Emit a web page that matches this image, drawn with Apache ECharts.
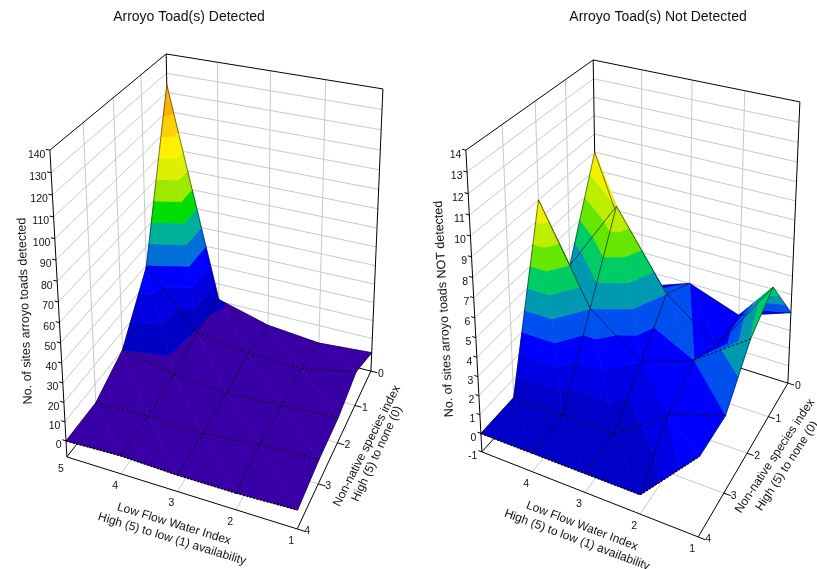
<!DOCTYPE html>
<html><head><meta charset="utf-8"><style>html,body{margin:0;padding:0;background:#fff}#chart{width:817px;height:569px}</style></head>
<body><div id="chart"></div>
<script src="https://cdn.jsdelivr.net/npm/echarts@6/dist/echarts.min.js"></script>
<script>
// ---- categories / ticks
const lowFlowIndex = [5, 4, 3, 2, 1];
const speciesIndex = [0, 1, 2, 3, 4];
const detectedZTicks = [0,10,20,30,40,50,60,70,80,90,100,110,120,130,140];
const notDetectedZTicks = [-1,0,1,2,3,4,5,6,7,8,9,10,11,12,13,14];
const detectedLowFlowLabels = [5,4,3,2,1];
const notDetectedLowFlowLabels = [4,3,2,1];

// ---- series values: one row per low-flow index, species index 0..4
const detectedLF5 = [124, 39, 10, 0, 0];
const detectedLF4 = [11, 9, 4, 1, 1];
const detectedLF3 = [3, 5, 2, 0, 0];
const detectedLF2 = [0, 4, 3, 3, 0];
const detectedLF1 = [2, 10, 5, 4, 1];

const notDetectedLF5 = [9, 4, 9, 0, 0];
const notDetectedLF4 = [2, 8, 4, 0, 0];
const notDetectedLF3 = [3, 4, 2, 0, 0];
const notDetectedLF2 = [2, 2, 3, 2, 0];
const notDetectedLF1 = [3, 6, 5, 3, 3];

// ---- colour bands
const detectedLevels = [0,10,20,30,40,50,60,70,80,90,100,110,1000];
const detectedColors = ['#3A00A8','#0000C4','#0000E0','#0000FF','#0070D8','#00B098','#00DD00','#9FE800','#DDF000','#FFF000','#FFD000','#FFB000'];
const notDetectedLevels = [-1,1,2,3,4,5,6,7,8,1000];
const notDetectedColors = ['#0000C8','#0000E4','#0000FF','#0050F0','#0099B0','#00CC66','#66E600','#BDEE00','#F0F000'];

// ---- layout
const FONT_TICK = '10.5px "Liberation Sans"';
const FONT_NAME = '12px "Liberation Sans"';
const FONT_ZNAME = '12.5px "Liberation Sans"';
const panels = [
  { rows:[detectedLF5,detectedLF4,detectedLF3,detectedLF2,detectedLF1], levels:detectedLevels, colors:detectedColors,
    zMin:-8.5, zMax:140, zTicks:detectedZTicks, lfLabels:detectedLowFlowLabels,
    anchors:[[5,4,-8.5,67,457],[1,4,-8.5,297,529],[1,0,-8.5,371,371],[5,4,140,50,150],[5,0,140,166,54],[1,0,140,383,89]],
    isDashed:function(lf,sp){ return sp===4 || sp===3 || sp===2 || (sp===1 && lf<5); },
    zTitle:{t:'No. of sites arroyo toads detected',x:25,y:311,r:92},
    lfTitles:[{t:'Low Flow Water Index',x:174,y:524,r:-17},{t:'High (5) to low (1) availability',x:172,y:539,r:-17}],
    spTitles:[{t:'Non-native species index',x:367,y:446,r:63},{t:'High (5) to none (0)',x:377,y:454,r:65}]
  },
  { rows:[notDetectedLF5,notDetectedLF4,notDetectedLF3,notDetectedLF2,notDetectedLF1], levels:notDetectedLevels, colors:notDetectedColors,
    zMin:-1, zMax:14, zTicks:notDetectedZTicks, lfLabels:notDetectedLowFlowLabels,
    anchors:[[5,4,-1,482,452],[1,4,-1,698,537],[1,0,-1,788,383],[5,4,14,466,150],[5,0,14,593,60],[1,0,14,800,102]],
    isDashed:function(lf,sp){ return sp===4 || sp===3 || (sp===2 && lf===2); },
    zTitle:{t:'No. of sites arroyo toads NOT detected',x:444,y:309,r:93},
    lfTitles:[{t:'Low Flow Water Index',x:582,y:526,r:-21},{t:'High (5) to low (1) availability',x:577,y:540,r:-20.5}],
    spTitles:[{t:'Non-native species index',x:775,y:456,r:56.5},{t:'High (5) to none (0)',x:787,y:466,r:57}]
  }
];

function solveCamera(pts){
  const A=[];
  pts.forEach(p=>{const [X,Y,Z,u,v]=p;
    A.push([X,Y,Z,1,0,0,0,0,-u*X,-u*Y,-u*Z,u]);
    A.push([0,0,0,0,X,Y,Z,1,-v*X,-v*Y,-v*Z,v]);});
  const n=11,N=[];
  for(let i=0;i<n;i++){N.push([]);for(let j=0;j<=n;j++){let s=0;A.forEach(r=>{s+=r[i]*r[j]});N[i].push(s);}}
  for(let i=0;i<n;i++){let m=i;for(let k=i;k<n;k++)if(Math.abs(N[k][i])>Math.abs(N[m][i]))m=k;
    const t=N[i];N[i]=N[m];N[m]=t;
    for(let k=0;k<n;k++)if(k!==i){const f=N[k][i]/N[i][i];for(let j=i;j<=n;j++)N[k][j]-=f*N[i][j];}}
  const x=[];for(let i=0;i<n;i++)x.push(N[i][n]/N[i][i]);x.push(1);return x;
}
panels.forEach(p=>{p.cam=solveCamera(p.anchors);});

function project(api,P,lf,sp,z){
  const w=P[8]*lf+P[9]*sp+P[10]*z+P[11];
  return api.coord([(P[0]*lf+P[1]*sp+P[2]*z+P[3])/w,(P[4]*lf+P[5]*sp+P[6]*z+P[7])/w]);
}
function clipZ(poly,limit,keepAbove){
  const out=[];
  for(let i=0;i<poly.length;i++){
    const a=poly[i],b=poly[(i+1)%poly.length];
    const ia=keepAbove?a[2]>=limit:a[2]<=limit, ib=keepAbove?b[2]>=limit:b[2]<=limit;
    if(ia)out.push(a);
    if(ia!==ib){const t=(limit-a[2])/(b[2]-a[2]);out.push([a[0]+t*(b[0]-a[0]),a[1]+t*(b[1]-a[1]),limit]);}
  }
  return out;
}
function lineEl(a,b,stroke,width,dash){
  return {type:'line',silent:true,shape:{x1:a[0],y1:a[1],x2:b[0],y2:b[1]},style:{stroke:stroke,lineWidth:width,lineDash:dash||null,fill:null}};
}
function textEl(t,x,y,font,align,rot){
  return {type:'text',silent:true,x:x,y:y,rotation:(rot||0)*Math.PI/180,
    style:{text:String(t),font:font,fill:'#111',textAlign:align||'center',textVerticalAlign:'middle'}};
}

function renderFrame(p){
  return function(params,api){
    const P=p.cam, c=[], zA=p.zMin, zB=p.zMax, pt=(l,s,z)=>project(api,P,l,s,z);
    const GRID='#C9C9C9';
    p.zTicks.forEach(z=>{
      if(z<=p.zMin||z>=p.zMax) return;
      c.push(lineEl(pt(5,4,z),pt(5,0,z),GRID,1));
      c.push(lineEl(pt(5,0,z),pt(1,0,z),GRID,1));
    });
    [4,3,2].forEach(l=>{
      c.push(lineEl(pt(l,0,zA),pt(l,0,zB),GRID,1));
      c.push(lineEl(pt(l,4,zA),pt(l,0,zA),GRID,1));
    });
    [3,2,1].forEach(s=>{
      c.push(lineEl(pt(5,s,zA),pt(5,s,zB),GRID,1));
      c.push(lineEl(pt(5,s,zA),pt(1,s,zA),GRID,1));
    });
    const K='#000';
    [[5,4,zB,5,0,zB],[5,0,zB,1,0,zB],[5,4,zA,5,4,zB],[5,0,zA,5,0,zB],[1,0,zA,1,0,zB],
     [5,4,zA,1,4,zA],[1,4,zA,1,0,zA],[5,4,zA,5,0,zA],[5,0,zA,1,0,zA]].forEach(e=>{
      c.push(lineEl(pt(e[0],e[1],e[2]),pt(e[3],e[4],e[5]),K,1));
    });
    return {type:'group',children:c};
  };
}
function renderAxes(p){
  return function(params,api){
    const P=p.cam, c=[], zA=p.zMin, pt=(l,s,z)=>project(api,P,l,s,z), K='#000';
    p.zTicks.forEach(z=>{
      const a=pt(5,4,z);
      c.push(lineEl(pt(5.07,4,z),a,K,1));
      c.push(textEl(z,a[0]-4.5,a[1]+4.5,FONT_TICK,'right'));
    });
    p.lfLabels.forEach(l=>{
      const a=pt(l,4,zA);
      c.push(textEl(l,a[0]-6,a[1]+12,FONT_TICK,'center'));
    });
    speciesIndex.forEach(s=>{
      const a=pt(1,s,zA);
      c.push(lineEl(pt(0.88,s,zA),a,K,1));
      c.push(textEl(s,a[0]+10,a[1]+2.5,FONT_TICK,'center'));
    });
    c.push(textEl(p.zTitle.t,p.zTitle.x,p.zTitle.y,FONT_ZNAME,'center',p.zTitle.r));
    p.lfTitles.concat(p.spTitles).forEach(t=>{
      c.push(textEl(t.t,t.x,t.y,FONT_NAME,'center',t.r));
    });
    return {type:'group',children:c};
  };
}
function renderCell(p){
  return function(params,api){
    const lf=api.value(0), sp=api.value(1), P=p.cam, c=[];
    const zAt=(l,s)=>p.rows[lowFlowIndex.indexOf(l)][speciesIndex.indexOf(s)];
    const F=[lf,sp,zAt(lf,sp)],A=[lf-1,sp,zAt(lf-1,sp)],B=[lf,sp+1,zAt(lf,sp+1)],N=[lf-1,sp+1,zAt(lf-1,sp+1)];
    [[F,A,N],[F,B,N]].forEach(tri=>{
      for(let b=0;b<p.colors.length;b++){
        let poly=clipZ(tri,p.levels[b],true);
        if(poly.length) poly=clipZ(poly,p.levels[b+1],false);
        if(poly.length<3) continue;
        c.push({type:'polygon',silent:true,shape:{points:poly.map(q=>project(api,P,q[0],q[1],q[2]))},
          style:{fill:p.colors[b],stroke:p.colors[b],lineWidth:0.7}});
      }
    });
    const MESH='rgba(0,0,30,0.5)', pr=q=>project(api,P,q[0],q[1],q[2]);
    const seg=(a,b,l,s,isSp)=>{
      if(isSp && s===4){ c.push(lineEl(pr(a),pr(b),'#000',1.5,[2,1.5])); return; }
      const d=isSp && p.isDashed(l,s);
      c.push(lineEl(pr(a),pr(b),d?'rgba(0,0,0,0.8)':MESH,1,d?[2.5,2]:null));
    };
    seg(F,A,lf,sp,true); seg(B,N,lf,sp+1,true);
    seg(F,B,lf,sp,false); seg(A,N,lf-1,sp,false);
    return {type:'group',children:c};
  };
}

const cellData=[];
[5,4,3,2].forEach(l=>{[0,1,2,3].forEach(s=>{cellData.push([l,s]);});});
const series=[];
panels.forEach(p=>{
  series.push({type:'custom',coordinateSystem:'cartesian2d',silent:true,animation:false,clip:false,data:[[0,0]],encode:{x:0,y:1},renderItem:renderFrame(p),z:1});
  series.push({type:'custom',coordinateSystem:'cartesian2d',silent:true,animation:false,clip:false,data:cellData,encode:{x:0,y:1},renderItem:renderCell(p),z:2});
  series.push({type:'custom',coordinateSystem:'cartesian2d',silent:true,animation:false,clip:false,data:[[0,0]],encode:{x:0,y:1},renderItem:renderAxes(p),z:3});
});

const TITLE_STYLE={fontFamily:'Liberation Sans',fontSize:14,fontWeight:'normal',color:'#111'};
const chart=echarts.init(document.getElementById('chart'),null,{renderer:'canvas'});
chart.setOption({
  animation:false, backgroundColor:'#fff',
  title:[
    {text:'Arroyo Toad(s) Detected',left:189,top:10,padding:0,textAlign:'center',textStyle:TITLE_STYLE},
    {text:'Arroyo Toad(s) Not Detected',left:658,top:10,padding:0,textAlign:'center',textStyle:TITLE_STYLE}
  ],
  grid:{left:0,right:0,top:0,bottom:0},
  xAxis:{type:'value',min:0,max:817,show:false},
  yAxis:{type:'value',min:0,max:569,inverse:true,show:false},
  tooltip:{show:false},
  series:series
});
</script></body></html>
